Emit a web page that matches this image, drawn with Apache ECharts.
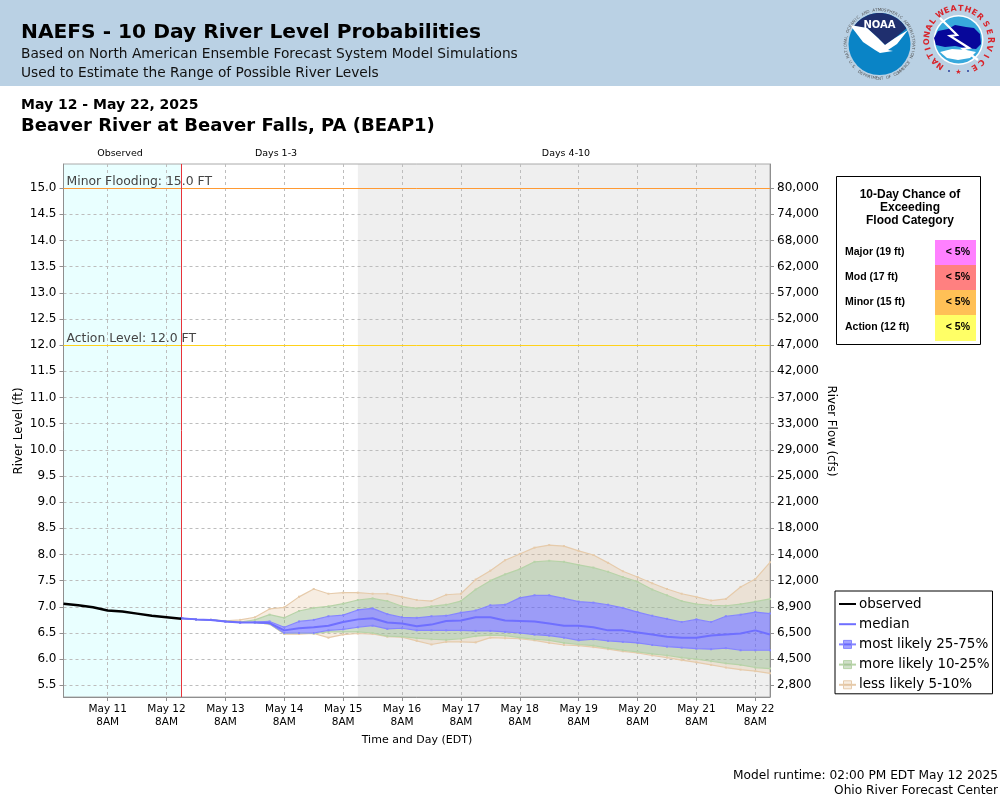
<!DOCTYPE html>
<html>
<head>
<meta charset="utf-8">
<title>NAEFS - Beaver River at Beaver Falls</title>
<script src="https://cdn.jsdelivr.net/npm/echarts@6/dist/echarts.min.js"></script>
<style>
html, body { margin: 0; padding: 0; background: #fff; }
#chart { width: 1000px; height: 800px; }
</style>
</head>
<body>
<div id="chart"></div>
<script>
// river level, 6 hour steps
const observedLevel = [7.06, 7.03, 6.99, 6.93, 6.91, 6.87, 6.83, 6.80, 6.77];
const medianLevel = [6.78, 6.76, 6.75, 6.72, 6.70, 6.70, 6.69, 6.55, 6.59, 6.61, 6.64, 6.71, 6.76, 6.78, 6.70, 6.68, 6.63, 6.66, 6.73, 6.74, 6.80, 6.80, 6.74, 6.73, 6.72, 6.68, 6.64, 6.64, 6.61, 6.55, 6.55, 6.51, 6.47, 6.43, 6.41, 6.41, 6.45, 6.47, 6.49, 6.55, 6.47];
const p95Level = [6.78, 6.76, 6.75, 6.73, 6.75, 6.80, 6.96, 6.99, 7.19, 7.34, 7.25, 7.27, 7.27, 7.25, 7.25, 7.19, 7.13, 7.11, 7.23, 7.25, 7.52, 7.69, 7.89, 8.01, 8.13, 8.18, 8.16, 8.07, 7.99, 7.84, 7.68, 7.57, 7.45, 7.34, 7.25, 7.19, 7.12, 7.15, 7.38, 7.53, 7.85];
const p90Level = [6.78, 6.76, 6.75, 6.73, 6.71, 6.75, 6.85, 6.79, 6.92, 6.98, 7.01, 7.06, 7.13, 7.16, 7.11, 7.01, 6.97, 7.01, 7.04, 7.11, 7.33, 7.50, 7.62, 7.72, 7.86, 7.88, 7.86, 7.80, 7.75, 7.67, 7.57, 7.48, 7.33, 7.22, 7.11, 7.05, 7.03, 7.02, 7.05, 7.10, 7.15];
const p75Level = [6.78, 6.76, 6.75, 6.72, 6.70, 6.71, 6.72, 6.61, 6.72, 6.75, 6.82, 6.84, 6.94, 6.97, 6.86, 6.80, 6.79, 6.82, 6.83, 6.89, 6.93, 7.03, 7.04, 7.17, 7.22, 7.22, 7.16, 7.10, 7.08, 7.04, 6.98, 6.90, 6.83, 6.77, 6.71, 6.76, 6.71, 6.82, 6.85, 6.90, 6.87];
const p25Level = [6.78, 6.76, 6.75, 6.72, 6.70, 6.70, 6.68, 6.50, 6.50, 6.50, 6.55, 6.57, 6.61, 6.64, 6.58, 6.59, 6.55, 6.55, 6.55, 6.55, 6.54, 6.54, 6.52, 6.50, 6.47, 6.45, 6.41, 6.36, 6.38, 6.35, 6.33, 6.31, 6.27, 6.24, 6.22, 6.20, 6.19, 6.21, 6.17, 6.17, 6.17];
const p10Level = [6.78, 6.76, 6.75, 6.72, 6.70, 6.70, 6.67, 6.49, 6.50, 6.49, 6.52, 6.52, 6.52, 6.50, 6.44, 6.43, 6.40, 6.38, 6.37, 6.39, 6.44, 6.46, 6.45, 6.41, 6.38, 6.36, 6.31, 6.28, 6.26, 6.21, 6.17, 6.14, 6.10, 6.07, 6.03, 6.00, 5.96, 5.92, 5.89, 5.84, 5.82];
const p5Level = [6.78, 6.76, 6.75, 6.72, 6.70, 6.70, 6.67, 6.48, 6.48, 6.49, 6.41, 6.47, 6.49, 6.48, 6.43, 6.42, 6.35, 6.28, 6.33, 6.33, 6.32, 6.41, 6.40, 6.39, 6.36, 6.31, 6.27, 6.26, 6.23, 6.19, 6.15, 6.12, 6.07, 6.03, 5.98, 5.94, 5.89, 5.84, 5.80, 5.77, 5.73];

// axis labels
const levelTicks = [5.5, 6.0, 6.5, 7.0, 7.5, 8.0, 8.5, 9.0, 9.5, 10.0, 10.5, 11.0, 11.5, 12.0, 12.5, 13.0, 13.5, 14.0, 14.5, 15.0];
const flowLabels = ['2,800', '4,500', '6,500', '8,900', '12,000', '14,000', '18,000', '21,000', '25,000', '29,000', '33,000', '37,000', '42,000', '47,000', '52,000', '57,000', '62,000', '68,000', '74,000', '80,000'];
const dayNames = ['May 10', 'May 11', 'May 12', 'May 13', 'May 14', 'May 15', 'May 16', 'May 17', 'May 18', 'May 19', 'May 20', 'May 21', 'May 22'];
const stepNames = ['2AM', '8AM', '2PM', '8PM'];

// flood table
const floodNames = ['Major (19 ft)', 'Mod (17 ft)', 'Minor (15 ft)', 'Action (12 ft)'];
const floodChances = ['< 5%', '< 5%', '< 5%', '< 5%'];
const floodColors = ['#ff80ff', '#ff8080', '#ffc056', '#ffff66'];

// the x axis is a 6 hour category axis from May 10 2PM to May 22 2PM
const timeCategories = [];
dayNames.forEach((day, d) => stepNames.forEach((step, s) => {
    if ((d > 0 || s >= 2) && (d < dayNames.length - 1 || s <= 2)) timeCategories.push(day + ' ' + step);
}));
const nowIndex = timeCategories.indexOf('May 12 2PM');
const days4to10Index = timeCategories.indexOf('May 15 2PM');
const isDayTick = (i) => timeCategories[i].endsWith('8AM');

const observedData = observedLevel.map((v, i) => [i, v]);
const withIndex = (arr) => arr.map((v, i) => [nowIndex + i, v]);
const between = (upper, lower) => upper.map((v, i) => [nowIndex + i, +(v - lower[i]).toFixed(3)]);

const BLUE = 'rgba(80,80,255,0.52)';
const GREEN = 'rgba(150,185,135,0.45)';
const TAN = 'rgba(222,184,135,0.25)';
const BLUE_LINE = '#8585ff';
const GREEN_LINE = '#b7d3a8';
const TAN_LINE = '#e6cbab';
const GRID_LINE = { color: '#bdbdbd', type: [3, 3], width: 1 };
const AXIS_COLOR = '#8f8f8f';

function bandSeries(name, data, color) {
    return {
        name: name, type: 'line', stack: 'bands', data: data, symbol: 'none', silent: true,
        lineStyle: { opacity: 0 }, areaStyle: { color: color, opacity: 1 }, z: 3
    };
}
function edgeSeries(name, data, color) {
    return {
        name: name, type: 'line', data: data, symbol: 'rect', symbolSize: 2, silent: true,
        lineStyle: { color: color, width: 1.2 }, itemStyle: { color: color }, z: 4
    };
}

// ring of small letters for the two logos
function ringText(text, cx, cy, r, startDeg, endDeg, font, fill, flip) {
    const out = [];
    const step = text.length > 1 ? (endDeg - startDeg) / (text.length - 1) : 0;
    for (let i = 0; i < text.length; i++) {
        const a = (startDeg + step * i) * Math.PI / 180;
        out.push({
            type: 'text', x: cx + r * Math.sin(a), y: cy - r * Math.cos(a), rotation: -a + (flip ? Math.PI : 0),
            style: { text: text[i], font: font, fill: fill, align: 'center', verticalAlign: 'middle' }
        });
    }
    return out;
}
function arcPoints(cx, cy, r, startDeg, endDeg) {
    const pts = [];
    for (let d = startDeg; d <= endDeg; d += 5) {
        pts.push([cx + r * Math.sin(d * Math.PI / 180), cy - r * Math.cos(d * Math.PI / 180)]);
    }
    return pts;
}
function txt(x, y, text, font, fill, align) {
    return { type: 'text', x: x, y: y, style: { text: text, font: font, fill: fill || '#000', align: align || 'left', verticalAlign: 'middle' } };
}

const headerGraphics = [
    { type: 'rect', shape: { x: 0, y: 0, width: 1000, height: 86 }, style: { fill: '#bad1e4' } },
    txt(21, 33, 'NAEFS - 10 Day River Level Probabilities', 'bold 20.2px "DejaVu Sans"'),
    txt(21, 54, 'Based on North American Ensemble Forecast System Model Simulations', '13.75px "DejaVu Sans"', '#111'),
    txt(21, 73, 'Used to Estimate the Range of Possible River Levels', '13.75px "DejaVu Sans"', '#111'),
    txt(21, 105, 'May 12 - May 22, 2025', 'bold 14px "DejaVu Sans"'),
    txt(21, 126, 'Beaver River at Beaver Falls, PA (BEAP1)', 'bold 18px "DejaVu Sans"'),
    txt(120, 154, 'Observed', '9.5px "DejaVu Sans"', '#000', 'center'),
    txt(276, 154, 'Days 1-3', '9.5px "DejaVu Sans"', '#000', 'center'),
    txt(566, 154, 'Days 4-10', '9.5px "DejaVu Sans"', '#000', 'center'),
    { type: 'text', x: 19, y: 431, rotation: Math.PI / 2, style: { text: 'River Level (ft)', font: '11.8px "DejaVu Sans"', fill: '#000', align: 'center', verticalAlign: 'middle' } },
    { type: 'text', x: 831.5, y: 431, rotation: -Math.PI / 2, style: { text: 'River Flow (cfs)', font: '11.8px "DejaVu Sans"', fill: '#000', align: 'center', verticalAlign: 'middle' } },
    txt(417, 740, 'Time and Day (EDT)', '11px "DejaVu Sans"', '#000', 'center'),
    txt(998, 776, 'Model runtime: 02:00 PM EDT May 12 2025', '12.2px "DejaVu Sans"', '#000', 'right'),
    txt(998, 791, 'Ohio River Forecast Center', '12.2px "DejaVu Sans"', '#000', 'right')
];

// NOAA logo
const noaaLogo = [
    { type: 'circle', shape: { cx: 879.5, cy: 44, r: 31 }, style: { fill: '#0a84c6' } },
    { type: 'polygon', shape: { points: arcPoints(879.5, 44, 31, -55, 60).concat([[895, 38], [885, 45], [878, 38], [867, 28]]) }, style: { fill: '#1f2f6e' } },
    { type: 'polygon', shape: { points: [[850, 25], [867, 28], [878, 38], [885, 45], [895, 38], [908, 30], [897, 44], [888, 50], [893, 51], [880, 53], [875, 50], [863, 42]] }, style: { fill: '#fff' } },
    txt(879.5, 25, 'NOAA', 'bold 10px "DejaVu Sans"', '#fff', 'center')
].concat(ringText('NATIONAL OCEANIC AND ATMOSPHERIC ADMINISTRATION', 879.5, 44, 34, -112, 112, '4px "DejaVu Sans"', '#555'),
    ringText('U.S. DEPARTMENT OF COMMERCE', 879.5, 44, 34.5, 238, 122, '4px "DejaVu Sans"', '#555', true));

// NWS logo
const nwsLogo = [
    { type: 'circle', shape: { cx: 958.5, cy: 40, r: 25 }, style: { fill: '#fff' } },
    { type: 'circle', shape: { cx: 958.5, cy: 40, r: 23.5 }, style: { fill: '#38a9dc' } },
    { type: 'polygon', shape: { points: [[934, 38], [938, 31], [948, 29], [955, 25], [966, 27], [974, 28], [980, 34], [981, 44], [976, 49], [965, 48], [955, 46], [945, 47], [936, 45]] }, style: { fill: '#07079a' } },
    { type: 'polygon', shape: { points: [[940, 52], [952, 49], [966, 50], [976, 52], [970, 58], [958, 60], [947, 58]] }, style: { fill: '#fff' } },
    { type: 'polyline', shape: { points: [[940, 18], [957, 35], [950, 36], [969, 48], [963, 49], [978, 60]] }, style: { stroke: '#fff', fill: 'none', lineWidth: 2.2 } },
    { type: 'circle', shape: { cx: 949, cy: 71, r: 1 }, style: { fill: '#2a3f9c' } },
    { type: 'circle', shape: { cx: 968, cy: 71, r: 1 }, style: { fill: '#2a3f9c' } },
    txt(958.5, 72, '★', '7px "DejaVu Sans"', '#d8232a', 'center')
].concat(ringText('NATIONAL', 958.5, 40, 31.5, -145, -54, 'bold 8px "DejaVu Sans"', '#d8232a'),
    ringText('WEATHER', 958.5, 40, 31.5, -35, 43, 'bold 8px "DejaVu Sans"', '#d8232a'),
    ringText('SERVICE', 958.5, 40, 31.5, 60, 150, 'bold 8px "DejaVu Sans"', '#d8232a'));

// flood category table
const tableGraphics = [
    { type: 'rect', shape: { x: 836.5, y: 176.5, width: 144, height: 168 }, style: { fill: '#fff', stroke: '#000', lineWidth: 1 } },
    txt(910, 195, '10-Day Chance of', 'bold 12px "Liberation Sans"', '#000', 'center'),
    txt(910, 208, 'Exceeding', 'bold 12px "Liberation Sans"', '#000', 'center'),
    txt(910, 221, 'Flood Category', 'bold 12px "Liberation Sans"', '#000', 'center')
];
floodNames.forEach((name, i) => {
    const top = 240 + i * 25;
    tableGraphics.push({ type: 'rect', shape: { x: 935, y: top, width: 41, height: i === 3 ? 26 : 25 }, style: { fill: floodColors[i] } });
    tableGraphics.push(txt(845, top + 12, name, 'bold 10.5px "Liberation Sans"'));
    tableGraphics.push(txt(970, top + 12, floodChances[i], 'bold 10.5px "Liberation Sans"', '#000', 'right'));
});

const chart = echarts.init(document.getElementById('chart'), null, { renderer: 'canvas', width: 1000, height: 800 });

chart.setOption({
    animation: false,
    backgroundColor: '#fff',
    tooltip: { show: false },
    graphic: { elements: headerGraphics.concat(noaaLogo, nwsLogo, tableGraphics) },
    grid: { left: 63.5, right: 230, top: 164, bottom: 103, show: true, borderColor: '#aaa', borderWidth: 1, backgroundColor: 'transparent' },
    legend: {
        left: 835, top: 591, orient: 'vertical', itemWidth: 17, itemHeight: 10, itemGap: 6.2,
        padding: [6, 3, 2, 3], borderColor: '#000', borderWidth: 1, backgroundColor: '#fff',
        selectedMode: false,
        textStyle: { fontFamily: 'DejaVu Sans', fontSize: 13.5, color: '#000', padding: [0, 0, 0, -2] },
        data: [
            { name: 'observed', itemStyle: { opacity: 0 } },
            { name: 'median', itemStyle: { opacity: 0 } },
            { name: 'most likely 25-75%', itemStyle: { color: BLUE, borderColor: BLUE_LINE, borderWidth: 1 } },
            { name: 'more likely 10-25%', itemStyle: { color: GREEN, borderColor: GREEN_LINE, borderWidth: 1 } },
            { name: 'less likely 5-10%', itemStyle: { color: TAN, borderColor: TAN_LINE, borderWidth: 1 } }
        ]
    },
    xAxis: {
        type: 'category', data: timeCategories, boundaryGap: false,
        axisLine: { onZero: false, lineStyle: { color: AXIS_COLOR, width: 1 } },
        axisTick: { interval: isDayTick, length: 4, lineStyle: { color: AXIS_COLOR } },
        axisLabel: {
            interval: isDayTick, margin: 6,
            fontFamily: 'DejaVu Sans', fontSize: 10.5, color: '#000', lineHeight: 13,
            formatter: (val) => val.replace(' 8AM', '\n8AM')
        },
        splitLine: { show: true, interval: isDayTick, lineStyle: GRID_LINE }
    },
    yAxis: [
        {
            type: 'value', min: 5.277, max: 15.46,
            axisLine: { show: true, onZero: false, lineStyle: { color: AXIS_COLOR, width: 1 } },
            axisTick: { show: true, customValues: levelTicks, length: 4, lineStyle: { color: AXIS_COLOR } },
            axisLabel: { customValues: levelTicks, margin: 7, padding: [2, 0, 0, 0], fontFamily: 'DejaVu Sans', fontSize: 12, color: '#000', formatter: (v) => (+v).toFixed(1) },
            splitLine: { show: true, lineStyle: GRID_LINE }
        },
        {
            type: 'value', min: 5.277, max: 15.46, position: 'right',
            axisLine: { show: true, onZero: false, lineStyle: { color: AXIS_COLOR, width: 1 } },
            axisTick: { show: true, customValues: levelTicks, length: 4, lineStyle: { color: AXIS_COLOR } },
            axisLabel: { customValues: levelTicks, margin: 7, padding: [2, 0, 0, 0], fontFamily: 'DejaVu Sans', fontSize: 12, color: '#000', formatter: (v) => flowLabels[levelTicks.indexOf(+v)] },
            splitLine: { show: false }
        }
    ],
    series: [
        // background shading and reference lines
        {
            name: 'backdrop', type: 'line', data: [], silent: true, z: 1,
            markArea: {
                silent: true, z: -1,
                data: [
                    [{ xAxis: 0, itemStyle: { color: '#e9ffff' } }, { xAxis: nowIndex }],
                    [{ xAxis: days4to10Index, itemStyle: { color: '#efefef' } }, { xAxis: timeCategories.length - 1 }]
                ]
            },
            markLine: {
                silent: true, symbol: 'none', z: 2, animation: false,
                label: { position: 'insideStartTop', distance: [3, 0], fontFamily: 'DejaVu Sans', fontSize: 12.4, color: '#444' },
                data: [
                    { yAxis: 15, lineStyle: { color: '#ff9a33', type: 'solid', width: 1 }, label: { formatter: 'Minor Flooding: 15.0 FT' } },
                    { yAxis: 12, lineStyle: { color: '#ffd21a', type: 'solid', width: 1 }, label: { formatter: 'Action Level: 12.0 FT' } },
                    { xAxis: nowIndex, lineStyle: { color: '#e8333a', type: 'solid', width: 1 }, label: { show: false } }
                ]
            }
        },
        // stacked bands
        { name: 'base', type: 'line', stack: 'bands', data: withIndex(p5Level), symbol: 'none', silent: true, lineStyle: { opacity: 0 }, z: 3 },
        bandSeries('band 5-10 low', between(p10Level, p5Level), TAN),
        bandSeries('band 10-25 low', between(p25Level, p10Level), GREEN),
        bandSeries('band 25-75', between(p75Level, p25Level), BLUE),
        bandSeries('band 10-25 high', between(p90Level, p75Level), GREEN),
        bandSeries('band 5-10 high', between(p95Level, p90Level), TAN),
        // band edges
        edgeSeries('less likely 5-10%', withIndex(p95Level), TAN_LINE),
        edgeSeries('less likely 5-10%', withIndex(p5Level), TAN_LINE),
        edgeSeries('more likely 10-25%', withIndex(p90Level), GREEN_LINE),
        edgeSeries('more likely 10-25%', withIndex(p10Level), GREEN_LINE),
        edgeSeries('most likely 25-75%', withIndex(p75Level), BLUE_LINE),
        edgeSeries('most likely 25-75%', withIndex(p25Level), BLUE_LINE),
        {
            name: 'median', type: 'line', data: withIndex(medianLevel), symbol: 'none', silent: true,
            lineStyle: { color: '#6f6fff', width: 2 }, itemStyle: { color: '#6f6fff' }, z: 5
        },
        {
            name: 'observed', type: 'line', data: observedData, symbol: 'none', silent: true,
            lineStyle: { color: '#000', width: 2.5 }, itemStyle: { color: '#000' }, z: 6
        }
    ]
});
</script>
</body>
</html>
